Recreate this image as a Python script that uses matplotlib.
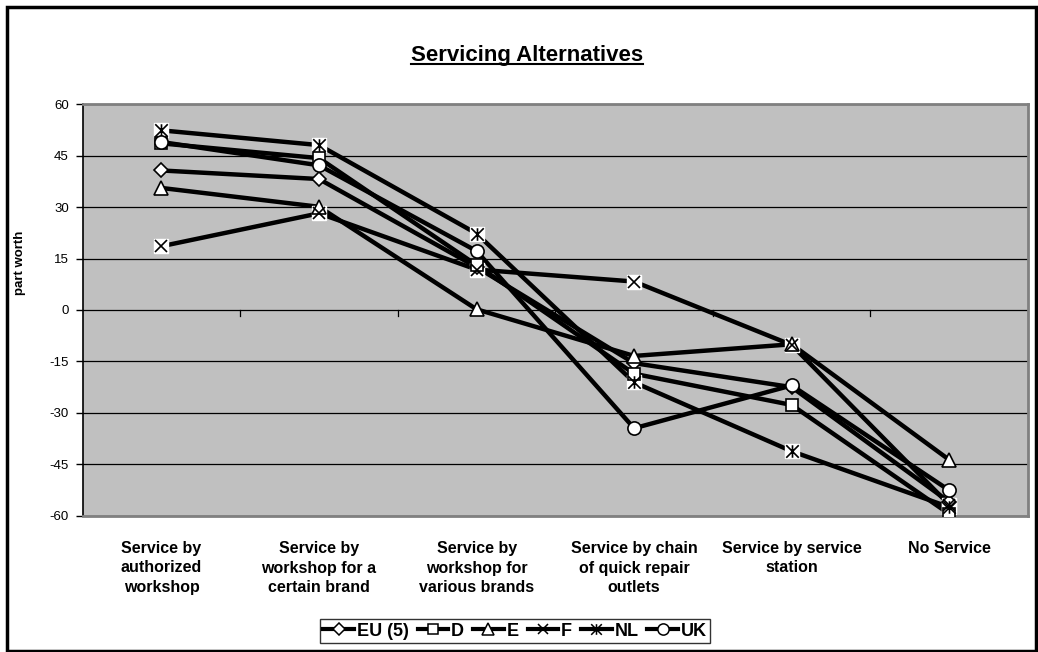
import matplotlib
matplotlib.use('Agg')
import matplotlib.pyplot as plt
from matplotlib.lines import Line2D
from matplotlib.patches import Rectangle
from matplotlib.path import Path

plt.rcParams['font.family'] = ['Liberation Sans', 'DejaVu Sans']

categories = ["Service by\nauthorized\nworkshop",
              "Service by\nworkshop for a\ncertain brand",
              "Service by\nworkshop for\nvarious brands",
              "Service by chain\nof quick repair\noutlets",
              "Service by service\nstation",
              "No Service"]

series_names = ["EU (5)", "D", "E", "F", "NL", "UK"]
eu = [40.7, 38.2, 12.5, -15.5, -22.5, -56.0]
d = [48.6, 44.3, 13.1, -18.6, -27.7, -59.5]
e = [35.6, 30.1, 0.2, -13.4, -10.0, -43.7]
f = [18.6, 28.2, 11.8, 8.3, -10.2, -56.8]
nl = [52.4, 48.1, 22.3, -21.1, -41.2, -57.5]
uk = [49.0, 42.2, 17.2, -34.5, -22.0, -52.6]
all_values = [eu, d, e, f, nl, uk]

yticks = [-60, -45, -30, -15, 0, 15, 30, 45, 60]

# X with a vertical bar (Excel "star" marker)
star = Path([(-1, -1), (1, 1), (-1, 1), (1, -1), (0, -1), (0, 1)],
            [Path.MOVETO, Path.LINETO, Path.MOVETO, Path.LINETO, Path.MOVETO, Path.LINETO])

markers = ['D', 's', '^', 'x', star, 'o']
msizes = [7.5, 9, 10, 9, 9, 9.5]
backing = [False, False, False, True, True, False]

fig = plt.figure(figsize=(10.38, 6.52), dpi=100)
ax = fig.add_axes([82.7 / 1038, 1 - 515.7 / 652, (1028 - 82.7) / 1038, (515.7 - 104.3) / 652])
ax.set_facecolor('#C0C0C0')

x = list(range(len(categories)))

for yt in yticks:
    ax.axhline(yt, color='black', lw=0.9, zorder=1)

# category tick marks hanging from the zero line
for b in range(1, len(categories)):
    ax.plot([b - 0.5, b - 0.5], [0, -1.8], color='black', lw=0.9, zorder=1)

for vals in all_values:
    ax.plot(x, vals, color='black', lw=3.2, solid_capstyle='round', zorder=3)

for vals, m, ms, bk in zip(all_values, markers, msizes, backing):
    if bk:
        ax.plot(x, vals, ls='none', marker='s', ms=9.5, mfc='white', mec='white', zorder=4)
        ax.plot(x, vals, ls='none', marker=m, ms=ms, mec='black', mew=1.2, zorder=5)
    else:
        ax.plot(x, vals, ls='none', marker=m, ms=ms, mfc='white', mec='black', mew=1.2, zorder=5)

ax.set_xlim(-0.5, len(categories) - 0.5)
ax.set_ylim(-60, 60)
ax.set_yticks(yticks)
ax.set_yticklabels([str(v) for v in yticks], fontsize=9.5)
ax.tick_params(axis='y', length=5, width=1, pad=5, direction='out')
ax.set_xticks(x)
ax.set_xticklabels(categories, fontsize=11.5, fontweight='bold', linespacing=1.4)
ax.tick_params(axis='x', length=0, pad=18)

for s in ['top', 'right', 'bottom']:
    ax.spines[s].set_color('#808080')
    ax.spines[s].set_linewidth(2)
ax.spines['left'].set_color('black')
ax.spines['left'].set_linewidth(1.2)

fig.text(20 / 1038, 1 - 263 / 652, 'part worth', rotation=90, fontsize=9.5,
         fontweight='bold', ha='center', va='center')

title = fig.text(527 / 1038, 1 - 61 / 652, 'Servicing Alternatives', fontsize=16,
                 fontweight='bold', ha='center', va='baseline')
fig.canvas.draw()
bb = title.get_window_extent()
# underline, sitting just under the baseline so it cuts the descenders
fig.add_artist(Line2D([bb.x0 / 1038, bb.x1 / 1038], [(652 - 64) / 652] * 2,
                      color='black', lw=1.5, transform=fig.transFigure))

handles = []
for m, ms in zip(markers, msizes):
    handles.append(Line2D([], [], color='black', lw=3, marker=m, ms=ms * 0.85,
                          mfc='white', mec='black', mew=1.1))
leg = fig.legend(handles, series_names, loc='center', bbox_to_anchor=(515 / 1038, 1 - 631 / 652),
                 ncol=6, frameon=True, fancybox=False, edgecolor='black',
                 prop={'weight': 'bold', 'size': 13}, handlelength=1.7,
                 handletextpad=0.15, columnspacing=0.5, borderpad=0.2, borderaxespad=0)
leg.get_frame().set_linewidth(1)

fig.add_artist(Rectangle((7 / 1038, 1 / 652), 1029 / 1038, 644 / 652, fill=False,
                         edgecolor='black', lw=2.5, transform=fig.transFigure))

fig.savefig('out.png', dpi=100)
